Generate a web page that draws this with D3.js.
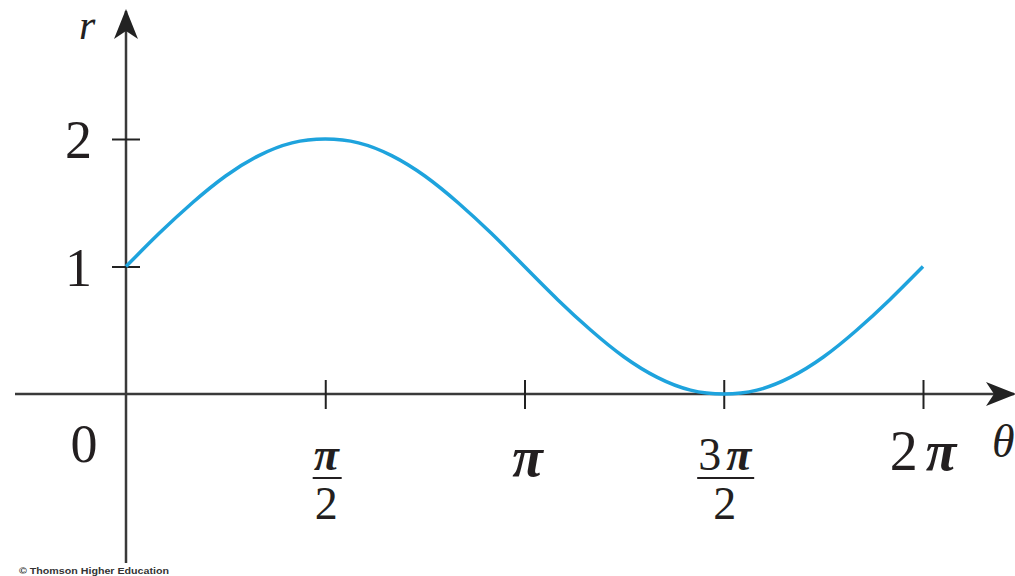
<!DOCTYPE html>
<html>
<head>
<meta charset="utf-8">
<script src="https://cdn.jsdelivr.net/npm/d3@7"></script>
<style>
  html, body { margin: 0; padding: 0; background: #fff; }
  svg { display: block; }
  .lbl { font-family: "Liberation Serif", "DejaVu Serif", serif; fill: #231f20; }
</style>
</head>
<body>
<svg id="chart" width="1015" height="576"></svg>
<script>
// r = 1 + sin(theta), sampled every pi/12 over one period
const thetaSteps = [0,1,2,3,4,5,6,7,8,9,10,11,12,13,14,15,16,17,18,19,20,21,22,23,24]; // in units of pi/12
const rValues = [1.00, 1.26, 1.50, 1.71, 1.87, 1.97, 2.00, 1.97, 1.87, 1.71, 1.50, 1.26,
                 1.00, 0.74, 0.50, 0.29, 0.13, 0.03, 0.00, 0.03, 0.13, 0.29, 0.50, 0.74, 1.00];
const xTickValues = [Math.PI / 2, Math.PI, 3 * Math.PI / 2, 2 * Math.PI];
const yTickValues = [1, 2];
const yTickLabels = ["1", "2"];

const svg = d3.select("#chart");
const ink = "#3a3a3a";

const x = d3.scaleLinear().domain([0, 2 * Math.PI]).range([126, 923]);
const y = d3.scaleLinear().domain([0, 2]).range([394, 139]);

const data = thetaSteps.map((k, i) => ({ t: k * Math.PI / 12, r: rValues[i] }));

// arrowheads for axis ends
const defs = svg.append("defs");
defs.append("marker")
  .attr("id", "arrow")
  .attr("viewBox", "0 0 30 24")
  .attr("refX", 28).attr("refY", 12)
  .attr("markerWidth", 30).attr("markerHeight", 24)
  .attr("markerUnits", "userSpaceOnUse")
  .attr("orient", "auto")
  .append("path")
  .attr("d", "M0,0 L30,12 L0,24 L8,12 Z")
  .attr("fill", "#222");

// x axis line
svg.append("line")
  .attr("x1", 15).attr("y1", y(0)).attr("x2", 1014).attr("y2", y(0))
  .attr("stroke", ink).attr("stroke-width", 2.5)
  .attr("marker-end", "url(#arrow)");

// y axis line
svg.append("line")
  .attr("x1", x(0)).attr("y1", 563).attr("x2", x(0)).attr("y2", 11)
  .attr("stroke", ink).attr("stroke-width", 2.5)
  .attr("marker-end", "url(#arrow)");

// x ticks (crossing the axis)
const xAxis = d3.axisBottom(x).tickValues(xTickValues).tickSizeInner(15).tickSizeOuter(0).tickFormat("");
const gx = svg.append("g").attr("transform", `translate(0,${y(0)})`).call(xAxis);
gx.select(".domain").remove();
gx.selectAll(".tick line").attr("y1", -14).attr("stroke", "#222").attr("stroke-width", 2);

// y ticks (crossing the axis)
const yAxis = d3.axisLeft(y).tickValues(yTickValues).tickSizeInner(14).tickSizeOuter(0).tickFormat("");
const gy = svg.append("g").attr("transform", `translate(${x(0)},0)`).call(yAxis);
gy.select(".domain").remove();
gy.selectAll(".tick line").attr("x1", 14).attr("stroke", "#222").attr("stroke-width", 2);

// y tick labels
yTickValues.forEach((v, i) => {
  svg.append("text").attr("class", "lbl")
    .attr("x", 92).attr("y", y(v) + 19)
    .attr("text-anchor", "end")
    .attr("font-size", 54)
    .text(yTickLabels[i]);
});

// origin label
svg.append("text").attr("class", "lbl")
  .attr("x", 84).attr("y", y(0) + 68)
  .attr("text-anchor", "middle").attr("font-size", 54).text("0");

// x tick labels
function piSpan(sel, gap) {
  const s = sel.append("tspan").attr("font-style", "italic").attr("font-weight", "bold").text("π");
  if (gap) s.attr("dx", gap);
}
function fraction(cx, top) {
  const t = svg.append("text").attr("class", "lbl")
    .attr("x", cx).attr("y", y(0) + 76)
    .attr("text-anchor", "middle").attr("font-size", 46);
  if (top) t.append("tspan").text(top);
  piSpan(t, top ? 5 : 0);
  const bb = t.node().getBBox();
  svg.append("line")
    .attr("x1", bb.x - 1).attr("x2", bb.x + bb.width + 1)
    .attr("y1", y(0) + 84).attr("y2", y(0) + 84)
    .attr("stroke", "#231f20").attr("stroke-width", 2);
  svg.append("text").attr("class", "lbl")
    .attr("x", cx).attr("y", y(0) + 125)
    .attr("text-anchor", "middle").attr("font-size", 46).text("2");
}
fraction(x(Math.PI / 2) + 1, "");
fraction(x(3 * Math.PI / 2) + 1, "3");

const piT = svg.append("text").attr("class", "lbl")
  .attr("x", x(Math.PI) + 3).attr("y", y(0) + 82)
  .attr("text-anchor", "middle").attr("font-size", 56);
piSpan(piT, 0);

const twoPi = svg.append("text").attr("class", "lbl")
  .attr("x", x(2 * Math.PI)).attr("y", y(0) + 76)
  .attr("text-anchor", "middle").attr("font-size", 56);
twoPi.append("tspan").text("2");
piSpan(twoPi, 8);

// axis titles
svg.append("text").attr("class", "lbl")
  .attr("x", 992).attr("y", y(0) + 63)
  .attr("font-size", 46).attr("font-style", "italic").text("θ");
svg.append("text").attr("class", "lbl")
  .attr("x", 79).attr("y", 39)
  .attr("font-size", 42).attr("font-style", "italic").text("r");

// the curve
const line = d3.line().x(d => x(d.t)).y(d => y(d.r)).curve(d3.curveNatural);
svg.append("path").datum(data)
  .attr("d", line)
  .attr("fill", "none")
  .attr("stroke", "#1ea3dd")
  .attr("stroke-width", 3.5);

// credit
svg.append("text")
  .attr("x", 19).attr("y", 574)
  .attr("font-family", "Liberation Sans, Arial, sans-serif")
  .attr("font-size", 9)
  .attr("font-weight", "bold")
  .attr("fill", "#333")
  .attr("textLength", 150)
  .attr("lengthAdjust", "spacingAndGlyphs")
  .text("© Thomson Higher Education");
</script>
</body>
</html>
